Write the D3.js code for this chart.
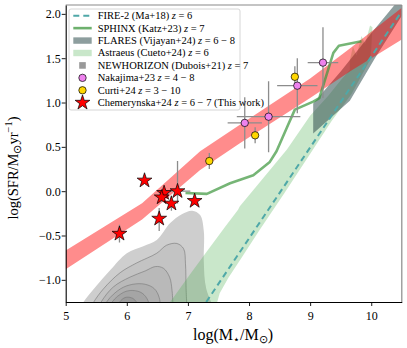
<!DOCTYPE html>
<html><head><meta charset="utf-8">
<script src="https://cdn.jsdelivr.net/npm/d3@7"></script>
<style>
body{margin:0;background:#fff;}
svg{display:block;font-family:"Liberation Serif","Times New Roman",serif;}
</style></head><body>
<svg id="chart" width="407" height="348"></svg>
<script>
// ---------------- data ----------------
const xTicks = [5, 6, 7, 8, 9, 10];
const yTicks = [-1.0, -0.5, 0.0, 0.5, 1.0, 1.5, 2.0];

// main-sequence fit band (this work)
const bandX  = [5.0, 6.25, 7.2, 7.85, 9.0, 9.65, 10.5];
const bandLo = [-0.88, -0.32, 0.24, 0.54, 1.05, 1.35, 1.71];
const bandHi = [-0.67, -0.135, 0.45, 0.75, 1.27, 1.61, 2.07];

// FIRE-2 (Ma+18) z=6
const fireX = [7.30, 10.5];
const fireY = [-1.25, 2.03];

// SPHINX (Katz+23) z=7
const sphinxX = [6.96, 7.31, 7.69, 8.07, 8.34, 8.45, 8.64, 8.75, 9.05, 9.15, 9.38, 9.47, 9.84];
const sphinxY = [-0.02, -0.03, 0.09, 0.18, 0.33, 0.45, 0.75, 0.92, 1.01, 1.05, 1.56, 1.64, 1.69];

// FLARES (Vijayan+24) z=6-8 region
const flaresX = [9.05, 9.5, 10.0, 10.5, 10.5, 10.06, 9.65, 9.05];
const flaresY = [0.99, 1.35, 1.78, 2.2, 1.98, 1.5, 1.02, 0.65];

// Astraeus (Cueto+24) z=6 region
const astraeusX = [6.71, 7.0, 7.3, 7.6, 7.82, 7.85, 8.2, 8.62, 9.0, 9.3, 9.5, 9.65, 9.65, 9.70, 9.76, 9.84, 9.9, 9.98, 10.02, 10.0, 9.98, 9.68, 9.36, 8.98, 8.58, 8.17, 7.87, 7.66, 7.52, 7.48];
const astraeusY = [-1.25, -0.97, -0.69, -0.41, -0.21, -0.17, 0.12, 0.47, 0.85, 1.08, 1.25, 1.37, 1.48, 1.63, 1.53, 1.75, 1.66, 1.87, 1.85, 1.6, 1.48, 1.1, 0.8, 0.4, -0.02, -0.44, -0.76, -0.98, -1.15, -1.25];

// NEWHORIZON (Dubois+21) z=7 density contours (outer -> inner)
const nhX = [
  [5.15, 5.29, 5.5, 5.73, 6.0, 6.27, 6.49, 6.71, 6.9, 7.07, 7.2, 7.26, 7.26, 7.3, 7.48],
  [5.35, 5.45, 5.62, 5.89, 6.16, 6.49, 6.65, 6.82, 6.93, 6.96, 6.97, 6.99],
  [5.48, 5.58, 5.78, 6.05, 6.3, 6.47, 6.6, 6.7, 6.74, 6.76],
  [5.58, 5.68, 5.9, 6.1, 6.3, 6.45, 6.53, 6.56],
  [5.68, 5.76, 5.95, 6.1, 6.25, 6.35, 6.38],
  [5.78, 5.85, 5.97, 6.1, 6.19, 6.22]
];
const nhY = [
  [-1.4, -1.25, -1.07, -0.89, -0.70, -0.62, -0.55, -0.36, -0.26, -0.22, -0.27, -0.45, -0.8, -1.1, -1.4],
  [-1.4, -1.26, -1.1, -0.92, -0.81, -0.70, -0.61, -0.59, -0.65, -0.82, -1.1, -1.4],
  [-1.4, -1.25, -1.08, -0.97, -0.9, -0.85, -0.87, -0.97, -1.12, -1.4],
  [-1.4, -1.24, -1.1, -1.05, -1.05, -1.1, -1.2, -1.4],
  [-1.4, -1.25, -1.14, -1.12, -1.15, -1.24, -1.4],
  [-1.4, -1.28, -1.2, -1.21, -1.29, -1.4]
];

// Nakajima+23 z=4-8
const nakX = [7.93, 8.32, 8.79, 9.21];
const nakY = [0.77, 0.84, 1.19, 1.45];
const nakXerr = [0.28, 0.52, 0.33, 0.25];
const nakYerr = [0.29, 0.40, 0.31, 0.40];

// Curti+24 z=3-10
const curX = [7.35, 8.10, 8.75];
const curY = [0.34, 0.63, 1.29];
const curXerr = [0.04, 0.0, 0.0];
const curYerr = [0.09, 0.09, 0.12];

// Chemerynska+24 z=6-7 (this work)
const chX = [5.88, 6.29, 6.61, 6.57, 6.83, 6.73, 6.53, 7.11];
const chY = [-0.48, 0.12, -0.02, -0.07, 0.00, -0.14, -0.31, -0.11];
const chXerr = [0.03, 0.0, 0.08, 0.05, 0.21, 0.05, 0.03, 0.05];
const chYerrLo = [0.10, 0.0, 0.05, 0.05, 0.14, 0.08, 0.14, 0.04];
const chYerrHi = [0.10, 0.0, 0.05, 0.05, 0.34, 0.08, 0.12, 0.04];

const nhFills = ["#cecece", "#c3c3c3", "#b9b9b9", "#afafaf", "#a5a5a5", "#9b9b9b"];

// ---------------- chart ----------------
const L = 65.7, R = 401.8, T = 5, B = 302;
const svg = d3.select("#chart");
const x = d3.scaleLinear().domain([5, 10.5]).range([L, R]);
const y = d3.scaleLinear().domain([-1.25, 2.1]).range([B, T]);

svg.append("defs").append("clipPath").attr("id", "clip")
  .append("rect").attr("x", L).attr("y", T).attr("width", R - L).attr("height", B - T);
const g = svg.append("g").attr("clip-path", "url(#clip)");

// NEWHORIZON contours
const cLine = d3.line().x(d => x(d[0])).y(d => y(d[1])).curve(d3.curveCatmullRom.alpha(0.5));
nhX.forEach((xs, i) => {
  const pts = xs.map((v, j) => [v, nhY[i][j]]);
  g.append("path").attr("d", cLine(pts) + "Z")
    .attr("fill", nhFills[i])
    .attr("stroke", i === 0 ? "none" : "#7a7a7a").attr("stroke-width", 0.8).attr("stroke-opacity", 0.8);
});

// Astraeus region
const poly = d3.line().x(d => x(d[0])).y(d => y(d[1]));
g.append("path").attr("d", poly(astraeusX.map((v, i) => [v, astraeusY[i]])) + "Z")
  .attr("fill", "#4caf50").attr("fill-opacity", 0.3);

// FLARES region
g.append("path").attr("d", poly(flaresX.map((v, i) => [v, flaresY[i]])) + "Z")
  .attr("fill", "#2f4f4f").attr("fill-opacity", 0.55);

// main-sequence band
const area = d3.area().x((d, i) => x(bandX[i])).y0((d, i) => y(bandLo[i])).y1((d, i) => y(bandHi[i]));
g.append("path").attr("d", area(bandX)).attr("fill", "#ff0000").attr("fill-opacity", 0.45);

// FIRE-2 dashed
g.append("path").attr("d", poly(fireX.map((v, i) => [v, fireY[i]])))
  .attr("fill", "none").attr("stroke", "#4fa8a8").attr("stroke-width", 2).attr("stroke-dasharray", "6,4");

// SPHINX line
g.append("path").attr("d", poly(sphinxX.map((v, i) => [v, sphinxY[i]])))
  .attr("fill", "none").attr("stroke", "#3c963c").attr("stroke-opacity", 0.7).attr("stroke-width", 2.6)
  .attr("stroke-linejoin", "round");

// error bars helper
function errBars(xs, ys, xe, yl, yh) {
  xs.forEach((v, i) => {
    if (xe[i] > 0) g.append("line").attr("x1", x(v - xe[i])).attr("x2", x(v + xe[i]))
      .attr("y1", y(ys[i])).attr("y2", y(ys[i])).attr("stroke", "#8c8c8c").attr("stroke-width", 1.3);
    if (yl[i] > 0 || yh[i] > 0) g.append("line").attr("x1", x(v)).attr("x2", x(v))
      .attr("y1", y(ys[i] - yl[i])).attr("y2", y(ys[i] + yh[i])).attr("stroke", "#8c8c8c").attr("stroke-width", 1.3);
  });
}
errBars(nakX, nakY, nakXerr, nakYerr, nakYerr);
errBars(curX, curY, curXerr, curYerr, curYerr);
errBars(chX, chY, chXerr, chYerrLo, chYerrHi);

// points
nakX.forEach((v, i) => g.append("circle").attr("cx", x(v)).attr("cy", y(nakY[i])).attr("r", 3.7)
  .attr("fill", "#ee82ee").attr("stroke", "#000").attr("stroke-width", 0.7));
curX.forEach((v, i) => g.append("circle").attr("cx", x(v)).attr("cy", y(curY[i])).attr("r", 3.7)
  .attr("fill", "#ffd700").attr("stroke", "#000").attr("stroke-width", 0.7));
const star = d3.symbol().type(d3.symbolStar).size(68);
chX.forEach((v, i) => g.append("path").attr("d", star())
  .attr("transform", `translate(${x(v)},${y(chY[i])})`)
  .attr("fill", "#ff0000").attr("stroke", "#000").attr("stroke-width", 0.7));

// spines
svg.append("line").attr("x1", L).attr("x2", R).attr("y1", T).attr("y2", T).attr("stroke", "#8a8a8a").attr("stroke-width", 1.2);
svg.append("line").attr("x1", R).attr("x2", R).attr("y1", T).attr("y2", B).attr("stroke", "#8a8a8a").attr("stroke-width", 1.2);

// axes
const xAxis = d3.axisBottom(x).tickValues(xTicks).tickFormat(d3.format("d")).tickSize(4).tickSizeOuter(0);
const yAxis = d3.axisLeft(y).tickValues(yTicks).tickFormat(d => d3.format(".1f")(d).replace("-", "\u2212")).tickSize(4).tickSizeOuter(0);
const gx = svg.append("g").attr("transform", `translate(0,${B})`).call(xAxis);
const gy = svg.append("g").attr("transform", `translate(${L},0)`).call(yAxis);
[gx, gy].forEach(a => {
  a.select(".domain").attr("stroke", "#000").attr("stroke-width", 1.1);
  a.selectAll(".tick line").attr("stroke", "#000").attr("stroke-width", 0.9);
  a.selectAll(".tick text").attr("font-family", "Liberation Serif, serif").attr("font-size", 12).attr("fill", "#000");
});
gx.selectAll(".tick text").attr("dy", "0.95em");
gy.selectAll(".tick text").attr("x", -5);

// axis labels
const xl = svg.append("text").attr("x", 233).attr("y", 340).attr("text-anchor", "middle").attr("font-size", 16);
xl.append("tspan").text("log(M");
xl.append("tspan").attr("font-size", 11).attr("dy", 3).text("\u22C6");
xl.append("tspan").attr("dy", -3).text("/M");
xl.append("tspan").attr("font-size", 11).attr("dy", 3).text("\u2299");
xl.append("tspan").attr("dy", -3).text(")");

const yl = svg.append("text").attr("transform", "translate(18,168) rotate(-90)").attr("text-anchor", "middle").attr("font-size", 14.5);
yl.append("tspan").text("log(SFR/M");
yl.append("tspan").attr("font-size", 10.5).attr("dy", 3).text("\u2299");
yl.append("tspan").attr("dy", -3).text("yr");
yl.append("tspan").attr("font-size", 10.5).attr("dy", -6).text("\u22121");
yl.append("tspan").attr("dy", 6).text(")");

// legend
const lg = svg.append("g");
lg.append("rect").attr("x", 69).attr("y", 9).attr("width", 171).attr("height", 101).attr("rx", 2)
  .attr("fill", "#fff").attr("fill-opacity", 0.85).attr("stroke", "#cccccc").attr("stroke-width", 0.8);
const legendItems = [
  ["FIRE-2 (Ma+18) ", "6"],
  ["SPHINX (Katz+23) ", "7"],
  ["FLARES (Vijayan+24) ", "6 \u2212 8"],
  ["Astraeus (Cueto+24) ", "6"],
  ["NEWHORIZON (Dubois+21) ", "7"],
  ["Nakajima+23 ", "4 \u2212 8"],
  ["Curti+24 ", "3 \u2212 10"],
  ["Chemerynska+24 ", "6 \u2212 7 (This work)"]
];
const ly0 = 15.7, lstep = 12.43, hx0 = 73.3, hx1 = 91.7, hc = 82.5;
legendItems.forEach((it, i) => {
  const cy = ly0 + i * lstep;
  if (i === 0) lg.append("line").attr("x1", hx0).attr("x2", hx1).attr("y1", cy).attr("y2", cy)
    .attr("stroke", "#4fa8a8").attr("stroke-width", 2).attr("stroke-dasharray", "6,4");
  if (i === 1) lg.append("line").attr("x1", hx0).attr("x2", hx1).attr("y1", cy).attr("y2", cy)
    .attr("stroke", "#3c963c").attr("stroke-opacity", 0.75).attr("stroke-width", 2.6);
  if (i === 2) lg.append("rect").attr("x", hx0).attr("y", cy - 3.2).attr("width", hx1 - hx0).attr("height", 6.4)
    .attr("fill", "#2f4f4f").attr("fill-opacity", 0.55);
  if (i === 3) lg.append("rect").attr("x", hx0).attr("y", cy - 3.2).attr("width", hx1 - hx0).attr("height", 6.4)
    .attr("fill", "#4caf50").attr("fill-opacity", 0.3);
  if (i === 4) lg.append("rect").attr("x", hc - 3.3).attr("y", cy - 3.3).attr("width", 6.6).attr("height", 6.6)
    .attr("fill", "#999");
  if (i === 5) lg.append("circle").attr("cx", hc).attr("cy", cy).attr("r", 3.7)
    .attr("fill", "#ee82ee").attr("stroke", "#000").attr("stroke-width", 0.7);
  if (i === 6) lg.append("circle").attr("cx", hc).attr("cy", cy).attr("r", 3.7)
    .attr("fill", "#ffd700").attr("stroke", "#000").attr("stroke-width", 0.7);
  if (i === 7) lg.append("path").attr("d", star()).attr("transform", `translate(${hc},${cy})`)
    .attr("fill", "#ff0000").attr("stroke", "#000").attr("stroke-width", 0.7);
  const t = lg.append("text").attr("x", 97.7).attr("y", cy + 3.4).attr("font-size", 10.5).attr("xml:space", "preserve");
  t.append("tspan").text(it[0]);
  t.append("tspan").attr("font-style", "italic").text("z");
  t.append("tspan").text(" = " + it[1]);
});
</script>
</body></html>
